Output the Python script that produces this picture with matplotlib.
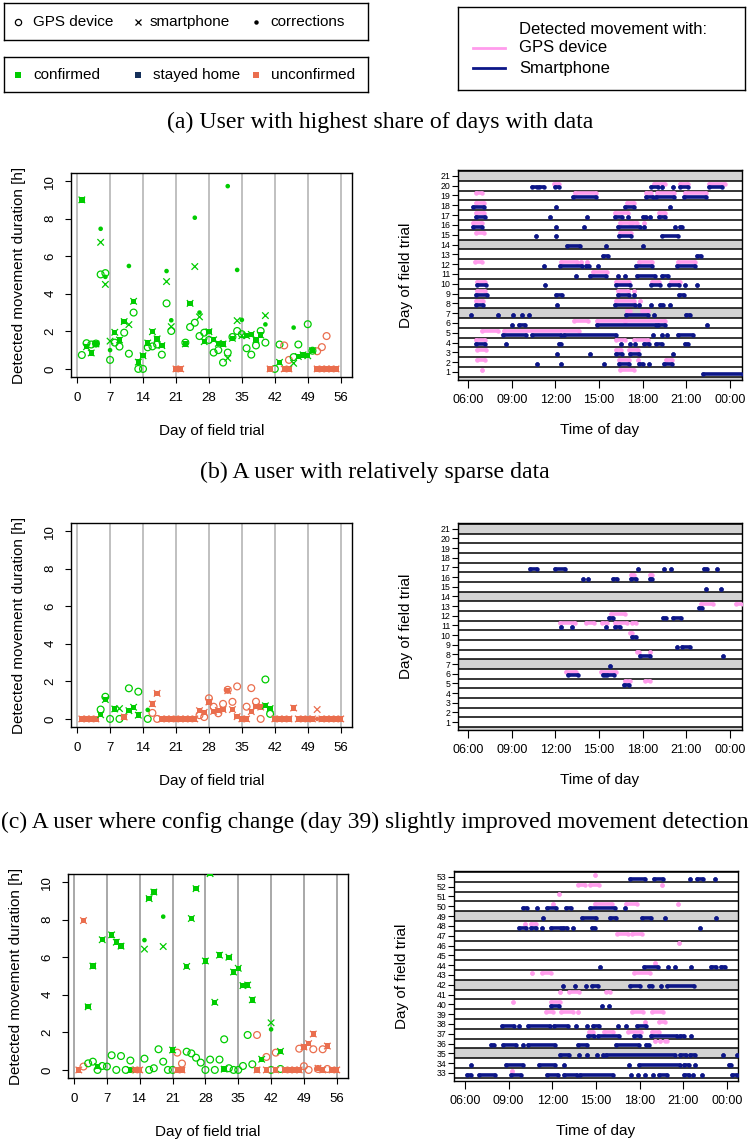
import numpy as np
import matplotlib
matplotlib.use("Agg")
import matplotlib.pyplot as plt

plt.rcParams['font.family'] = ['Liberation Sans', 'DejaVu Sans']

W, H = 750, 1141
nan = np.nan

GREEN = "#00cc00"
NAVY = "#15305a"
SALMON = "#ea6e4e"
PINK = "#ff9cec"
BLUE = "#0c1688"
STATUS_COL = {"C": GREEN, "S": NAVY, "U": SALMON}

day_ticks = [0, 7, 14, 21, 28, 35, 42, 49, 56]
dur_ticks = [0, 2, 4, 6, 8, 10]
hour_ticks = [6, 9, 12, 15, 18, 21, 24]
hour_labels = ["06:00", "09:00", "12:00", "15:00", "18:00", "21:00", "00:00"]

# ---------------- (a) scatter ----------------
days_a = list(range(1, 56))
gps_a = [0.74, 1.37, 1.3, 1.35, 5.03, 5.1, 0.48, 1.4, 1.19, 1.93,
         0.81, 3.0, 0.0, 0.0, 1.15, 1.2, 1.3, 0.76, 3.49, 2.02,
         nan, nan, 1.4, 2.23, 2.46, 1.75, 1.93, 1.54, 0.87, 1.0,
         0.34, 0.87, 1.7, 2.02, 1.85, 1.1, 0.76, 1.25, 2.02, 1.4,
         nan, 0.0, 1.3, 1.25, 0.48, 0.63, 1.3, nan, 2.38, 0.97,
         0.94, 1.16, 1.75, nan, nan]
phone_a = [9.0, 1.18, 0.85, 1.33, 6.74, 4.5, 1.48, 1.95, 1.54, 2.52,
           2.36, 3.6, 0.36, 0.7, 1.38, 1.98, 1.6, 1.24, 4.65, 2.25,
           0, 0, 1.33, 3.49, 5.45, 2.77, 1.45, 1.98, 1.55, 1.36,
           1.33, 0.57, 1.63, 2.57, 1.77, 1.77, 1.84, 1.54, 1.8, 2.84,
           0, nan, 0.35, 0, 0, 0.3, 0.66, 0.75, 0.7, 0.97,
           0, 0, 0, 0, 0]
corr_a = [9.0, 1.18, 0.85, 1.33, 7.46, 4.9, 1.0, 1.95, 1.54, 2.52,
          5.48, 3.6, 0.36, 0.7, 1.38, 1.98, 1.6, 1.24, 5.21, 2.59,
          0, 0, 1.33, 3.49, 8.05, 3.0, 1.45, 1.98, 1.55, 1.36,
          1.33, 9.73, 1.63, 5.27, 2.61, 1.77, 1.84, 1.54, 1.8, 2.37,
          0, nan, 0.35, 0, 0, 2.2, 0.66, 0.75, 0.7, 0.97,
          0, 0, 0, 0, 0]
status_a = "CCCCCCCCCCCCCCCCCCCCUUCCCCCCCCCCCCCCCCCCUCCUUCCCCCUUUUU"

# ---------------- (b) scatter ----------------
days_b = list(range(1, 57))
gps_b = [nan, nan, nan, nan, 0.5, 1.18, 0.0, nan, 0.0, nan,
         1.63, nan, 1.45, nan, 0.0, 0.32, 0.0, nan, nan, nan,
         nan, nan, nan, nan, nan, 0.2, 0.1, 1.1, 0.65, 0.3,
         0.8, 1.55, 0.91, 1.73, nan, 0.65, 1.64, 0.92, 0.0, 2.1,
         0.27, nan, nan, nan, nan, nan, nan, nan, nan, nan,
         nan, nan, nan, nan, nan, nan]
phone_b = [0, 0, 0, 0, 0.22, 1.03, nan, 0.53, 0.55, 0.1,
           0.44, 0.62, 0.2, nan, nan, 0.8, 1.36, 0, 0, 0,
           0, 0, 0, 0, 0, 0.44, 0.35, 0.9, 0.4, 0.45,
           0.5, 1.5, 0.5, 0.12, 0, 0, 0.39, 0.66, 0.63, 0.7,
           0.55, 0, 0, 0, 0, 0.58, 0, 0, 0, 0,
           0.5, 0, 0, 0, 0, 0]
corr_b = [0, 0, 0, 0, 0.22, 1.03, nan, 0.53, nan, 0.1,
          0.44, 0.62, 0.2, nan, 0.48, 0.8, 1.36, 0, 0, 0,
          0, 0, 0, 0, 0, 0.44, 0.35, 0.9, 0.4, 0.45,
          0.5, 1.5, 0.5, 0.12, 0, 0, 0.39, 0.66, 0.63, 0.7,
          0.55, 0, 0, 0, 0, 0.58, 0, 0, 0, 0,
          0, 0, 0, 0, 0, 0]
status_b = "UUUUCCCCCUCCCCCUUUUUUUUUUUUUUUUUUUUUUUUCCUUUUUUUUUUUUUUU"

# ---------------- (c) scatter ----------------
days_c = list(range(1, 57))
gps_c = [nan, 0.18, 0.35, 0.44, 0.0, 0.21, 0.18, 0.78, 0.0, 0.74,
         0.0, 0.5, nan, nan, 0.6, 0.0, 0.09, 1.1, 0.44, 0.0,
         0.0, 0.92, 0.34, 0.97, 0.88, 0.65, 0.39, 0.0, 0.55, 0.0,
         0.55, 1.63, 0.09, 0.0, 0.0, 0.21, 1.86, 0.3, 1.86, nan,
         0.69, 0.0, 0.92, 0.05, nan, nan, nan, 1.13, 0.2, 0.0,
         1.1, 0.05, 1.1, 0.05, nan, nan]
phone_c = [0, 7.95, 3.36, 5.53, 0.18, 6.93, nan, 7.19, 6.8, 6.59,
           nan, 0.0, 0, 0, 6.43, 9.12, 9.47, nan, 6.57, nan,
           1.06, 0, 0, 5.51, 8.06, 9.65, nan, 5.8, 10.45, 3.6,
           6.11, 0.04, 6.0, 5.21, 5.41, 4.49, 4.52, 3.73, 0, 0.57,
           0, 2.51, 0, 0.99, 0, 0, 0, 0, 1.22, 1.4,
           1.91, 0.09, 0, 1.27, 0, 0]
corr_c = [0, 7.95, 3.36, 5.53, 0.18, 6.93, nan, 7.19, 6.8, 6.59,
          nan, 0.0, 0, 0, 6.91, 9.12, 9.47, nan, 8.16, nan,
          1.06, 0, 0, 5.51, 8.06, 9.65, nan, 5.8, 10.45, 3.6,
          6.11, 0.04, 6.0, 5.21, 5.41, 4.49, 4.52, 3.73, 0, 0.57,
          0, 2.16, 0, 0.99, 0, 0, 0, 0, 1.22, 1.4,
          1.91, 0.09, 0, 1.27, 0, 0]
status_c = "UUCCCCCCCCCCUUCCCCCCCUUCCCCCCCCCCCCCCCUCUCUCUUUUUUUUUUUU"

# ---------------- (a) timeline ----------------
gps_tl_a = {
    20: [(11.91, 12.25), (18.78, 19.56), (20.59, 21.11), (22.56, 23.68)],
    19: [(6.53, 6.98), (13.33, 14.77), (18.23, 18.57), (18.98, 20.17), (20.88, 22.37)],
    18: [(6.57, 7.1), (16.95, 17.4)],
    17: [(6.57, 7.1), (16.12, 16.99), (19.12, 19.53)],
    16: [(6.34, 6.92), (16.42, 17.1), (17.29, 17.63), (18.09, 18.09)],
    15: [(6.57, 7.1), (16.42, 17.17)],
    12: [(6.46, 6.98), (12.41, 13.51), (13.79, 13.79), (14.2, 14.2), (17.72, 18.66), (20.43, 21.59)],
    11: [(14.59, 15.55)],
    10: [(6.62, 7.19), (16.19, 17.04), (18.66, 19.12), (19.92, 20.54)],
    9: [(6.62, 7.19), (16.28, 16.99), (17.4, 17.4)],
    8: [(6.53, 7.03), (16.19, 17.43), (17.79, 17.79)],
    7: [(16.92, 17.15), (17.95, 18.37)],
    6: [(13.28, 14.24), (14.86, 16.76), (16.81, 19.56)],
    5: [(6.98, 8.06), (8.47, 13.63)],
    4: [(6.57, 7.14), (16.14, 16.76), (17.38, 18.37)],
    3: [(6.62, 7.24), (16.14, 16.53), (17.06, 17.68)],
    2: [(6.62, 7.19), (16.4, 17.04), (17.68, 17.68), (19.63, 20.01)],
    1: [(6.98, 6.98), (16.42, 17.38)],
}
phone_tl_a = {
    20: [(10.42, 10.7), (10.88, 11.22), (11.98, 12.25), (18.55, 19.05), (19.35, 19.35),
         (20.08, 20.08), (20.59, 21.11), (22.56, 23.47)],
    19: [(13.21, 14.77), (18.23, 18.7), (18.94, 20.17), (20.82, 22.37)],
    18: [(6.34, 7.12), (12.07, 12.07), (16.79, 17.4), (19.85, 19.85)],
    17: [(6.53, 7.17), (11.61, 11.61), (14.17, 14.17), (16.12, 16.6), (16.99, 16.99),
         (18.02, 18.2), (18.52, 18.52), (19.1, 19.56)],
    16: [(6.34, 6.96), (12.07, 12.07), (13.95, 13.95), (16.33, 17.79), (18.07, 18.07),
         (20.2, 20.2), (20.54, 20.7)],
    15: [(10.65, 10.65), (12.07, 12.07), (16.35, 17.17), (19.35, 20.45)],
    14: [(12.82, 13.67), (15.5, 15.5), (18.02, 18.02)],
    13: [(15.27, 15.62), (21.75, 22.03)],
    12: [(11.22, 11.22), (12.3, 13.83), (14.13, 14.29), (14.95, 14.95), (17.56, 18.62), (20.38, 21.57)],
    11: [(13.4, 13.4), (14.4, 15.5), (16.3, 16.3), (16.81, 16.81), (17.63, 18.82), (19.35, 19.72)],
    10: [(6.62, 7.21), (11.29, 11.29), (16.19, 17.1), (18.59, 19.19), (19.79, 20.5),
         (20.93, 20.93), (21.73, 21.73)],
    9: [(6.57, 7.26), (12.07, 12.48), (16.33, 17.06), (17.4, 17.4), (20.5, 20.84)],
    8: [(6.53, 7.05), (12.11, 12.11), (16.08, 17.45), (17.75, 17.75), (18.59, 18.59),
        (19.17, 19.4), (19.85, 19.85)],
    7: [(6.18, 6.18), (8.06, 8.06), (9.09, 9.09), (9.73, 9.73), (10.17, 10.17),
        (16.88, 18.37), (18.78, 18.78), (21.0, 21.27)],
    6: [(9.02, 9.02), (9.5, 9.94), (14.86, 18.89), (19.07, 19.56), (22.44, 22.44)],
    5: [(8.4, 9.96), (10.42, 12.37), (12.6, 16.14), (18.7, 18.7), (19.33, 19.33),
        (19.7, 19.7), (20.43, 21.46)],
    4: [(6.53, 7.19), (8.63, 8.63), (12.25, 12.41), (16.49, 16.49), (17.1, 17.1),
        (17.45, 17.45), (18.09, 18.41), (18.94, 19.35), (20.88, 21.14)],
    3: [(12.11, 12.11), (14.36, 14.36), (16.19, 16.56), (17.1, 17.72), (20.08, 20.08)],
    2: [(10.76, 10.76), (12.41, 12.41), (15.34, 15.34), (16.37, 17.04), (17.75, 18.02),
        (18.43, 18.43), (19.44, 20.01)],
    1: [(22.14, 24.9)],
}

# ---------------- (b) timeline ----------------
gps_tl_b = {
    16: [(17.17, 17.4), (18.48, 18.66)],
    13: [(22.03, 22.83), (24.39, 24.9)],
    12: [(15.85, 16.76)],
    11: [(12.3, 13.33), (14.13, 14.66), (15.21, 15.57), (16.12, 16.95), (17.27, 17.56)],
    10: [(17.1, 17.29)],
    8: [(17.63, 17.75), (18.48, 18.48)],
    6: [(12.76, 13.4), (15.16, 16.14)],
    5: [(16.76, 17.1), (18.14, 18.48)],
}
phone_tl_b = {
    17: [(10.24, 10.74), (11.95, 12.66), (17.68, 17.68), (19.46, 19.46), (19.92, 19.92),
         (22.19, 22.44), (23.13, 23.13)],
    16: [(13.9, 13.9), (14.24, 14.24), (15.96, 16.26), (17.17, 17.56), (18.48, 18.66)],
    15: [(22.37, 22.37), (23.4, 23.4)],
    13: [(21.85, 22.1)],
    12: [(15.69, 15.96), (19.4, 19.62), (20.06, 20.66)],
    11: [(12.37, 12.37), (13.17, 13.17), (15.5, 15.5), (16.08, 16.42)],
    10: [(17.27, 17.56)],
    9: [(20.34, 20.34), (20.7, 21.23)],
    8: [(17.79, 18.53), (23.52, 23.52)],
    7: [(15.73, 15.73)],
    6: [(12.87, 13.56), (15.27, 15.43), (15.57, 16.03)],
    5: [(16.72, 17.06)],
}

# ---------------- (c) timeline ----------------
gps_tl_c = {
    53: [(14.9, 14.9)],
    52: [(13.75, 14.26), (14.56, 15.22), (19.53, 19.53)],
    51: [(12.47, 12.47)],
    50: [(12.08, 12.08), (14.94, 16.09), (17.06, 17.81), (20.61, 20.61)],
    48: [(10.15, 10.15), (10.54, 10.86)],
    47: [(16.44, 17.17), (17.47, 18.16)],
    46: [(20.68, 20.68)],
    44: [(19.03, 19.03)],
    43: [(10.59, 10.59), (11.28, 11.89), (17.58, 18.73)],
    41: [(12.54, 12.54), (13.18, 13.8), (15.66, 15.93)],
    40: [(9.28, 9.28), (11.92, 12.54)],
    39: [(11.57, 12.08), (12.58, 13.45), (13.73, 13.73), (17.47, 18.23), (18.87, 19.58)],
    38: [(18.39, 18.39), (19.3, 19.76)],
    37: [(14.49, 14.78), (15.52, 16.16), (17.19, 18.11), (18.87, 19.35)],
    36: [(19.07, 19.07), (19.37, 19.37), (19.76, 19.88)],
    33: [(9.21, 9.21)],
}
phone_tl_c = {
    53: [(17.35, 18.39), (18.96, 19.6), (21.44, 21.44), (21.94, 22.33), (23.16, 23.16)],
    50: [(9.97, 10.24), (10.93, 10.93), (11.62, 12.22), (12.93, 13.27), (14.6, 16.28), (17.0, 17.0)],
    49: [(11.39, 11.39), (14.07, 15.01), (15.98, 16.39), (18.16, 18.8), (19.72, 19.72), (23.27, 23.27)],
    48: [(9.72, 10.2), (10.54, 10.89), (11.32, 11.32), (11.89, 12.58), (12.72, 13.04),
         (13.39, 13.39), (14.72, 14.94), (22.17, 22.17)],
    44: [(15.29, 15.29), (18.27, 19.23), (19.94, 19.94), (20.4, 20.4), (21.53, 21.53),
         (22.93, 23.27), (23.55, 23.89)],
    42: [(12.7, 12.7), (13.59, 13.59), (14.3, 14.3), (14.72, 15.17), (17.35, 18.0),
         (18.61, 18.87), (19.49, 19.49), (19.88, 21.76)],
    40: [(11.92, 12.49), (15.4, 15.4), (15.91, 15.91)],
    38: [(8.52, 9.37), (9.74, 9.74), (10.31, 11.85), (12.12, 13.11), (13.64, 13.64),
         (14.39, 14.39), (14.76, 15.24), (16.5, 16.5), (17.03, 17.03), (17.81, 18.45)],
    37: [(14.42, 14.83), (15.13, 16.55), (17.58, 18.04), (18.78, 20.56), (20.75, 21.02), (21.53, 21.53)],
    36: [(7.79, 8.0), (8.64, 9.51), (9.97, 9.97), (10.31, 12.19), (13.75, 14.37),
         (16.39, 17.97), (18.45, 18.61)],
    35: [(12.54, 13.18), (13.8, 13.8), (14.37, 14.37), (15.1, 15.1), (15.45, 15.45),
         (15.68, 20.4), (20.75, 21.18), (21.48, 21.83), (23.73, 23.73), (24.65, 24.65)],
    34: [(6.39, 6.39), (8.8, 9.97), (11.11, 12.19), (12.83, 12.83), (17.26, 17.26),
         (17.93, 20.75), (21.02, 21.37), (21.83, 21.83), (24.12, 24.3)],
    33: [(6.11, 6.39), (7.0, 8.06), (9.14, 9.83), (11.62, 12.42), (12.81, 13.68),
         (13.91, 16.14), (17.4, 17.4), (17.86, 17.86), (18.39, 18.39), (18.89, 18.89),
         (19.33, 19.88), (21.02, 21.37), (21.64, 21.64), (22.28, 22.28), (24.35, 24.65)],
}


def px_rect(l, t, r, b):
    return [l / W, 1 - b / H, (r - l) / W, (b - t) / H]


def scatter_panel(ax, days, gps, phone, corr, status, gridcol):
    days = np.asarray(days, float)
    gps = np.asarray(gps, float)
    phone = np.asarray(phone, float)
    corr = np.asarray(corr, float)
    col = np.array([STATUS_COL[s] for s in status])
    for xv in day_ticks:
        ax.axvline(xv, color=gridcol, lw=1.4, zorder=0)
    same = np.isclose(phone, corr)
    ax.scatter(days, gps, s=24, facecolors="none", edgecolors=col, linewidths=0.9, zorder=2)
    ax.scatter(days[same], corr[same], marker="s", s=15, c=col[same], linewidths=0, zorder=3)
    ax.scatter(days[~same], corr[~same], marker="o", s=11, c=col[~same], linewidths=0, zorder=3)
    ax.scatter(days, phone, marker="x", s=22, c=col, linewidths=0.9, zorder=4)
    ax.set_xlim(-1.3, 58.4)
    ax.set_ylim(-0.43, 10.43)
    ax.set_xticks(day_ticks)
    ax.set_yticks(dur_ticks)
    ax.set_yticklabels([str(v) for v in dur_ticks], rotation=90, va="center")
    ax.tick_params(direction="out", length=4.5, width=0.8, labelsize=9.5, pad=6)
    ax.set_xlabel("Day of field trial", fontsize=11, labelpad=15)
    ax.set_ylabel("Detected movement duration [h]", fontsize=11, labelpad=13)
    for sp in ax.spines.values():
        sp.set_linewidth(1.0)


def timeline_panel(ax, lo, hi, gps_iv, phone_iv, xlim):
    for d in range(lo - 1, hi + 2):
        if d % 7 == 0:
            ax.axhspan(d - 0.5, d + 0.5, color="#d3d3d3", lw=0, zorder=0)
    for d in range(lo, hi + 1):
        ax.axhline(d - 0.5, color="black", lw=1.1, zorder=1)
    ax.axhline(hi + 0.5, color="black", lw=1.1, zorder=1)
    for ivs, off, c in ((gps_iv, 0.22, PINK), (phone_iv, -0.18, BLUE)):
        for day, spans in ivs.items():
            for s, e in spans:
                ax.plot([s, e], [day + off, day + off], color=c, lw=2.6, marker="o",
                        ms=3.2, mew=0, solid_capstyle="round", zorder=3)
    ax.set_xlim(*xlim)
    ax.set_ylim(lo - 0.82, hi + 0.6)
    ax.set_xticks(hour_ticks)
    ax.set_xticklabels(hour_labels)
    ax.set_yticks(range(lo, hi + 1))
    ax.tick_params(axis="x", direction="out", length=6, width=0.8, labelsize=9, pad=4)
    ax.tick_params(axis="y", direction="out", length=4, width=0.8, labelsize=6.3, pad=1.5)
    ax.set_xlabel("Time of day", fontsize=11, labelpad=12)
    ax.set_ylabel("Day of field trial", fontsize=11, labelpad=20)
    for sp in ax.spines.values():
        sp.set_linewidth(1.0)


fig = plt.figure(figsize=(W / 100, H / 100), dpi=100)

# legends
lg1 = fig.add_axes(px_rect(4, 3, 368, 40))
lg2 = fig.add_axes(px_rect(4, 57, 368, 92))
lg3 = fig.add_axes(px_rect(458, 7, 745, 90))
for lg, h in ((lg1, 37), (lg2, 35), (lg3, 83)):
    lg.set_xlim(0, lg.get_position().width * W)
    lg.set_ylim(h, 0)
    lg.set_xticks([])
    lg.set_yticks([])
    for sp in lg.spines.values():
        sp.set_linewidth(1.0)

lg1.plot(14, 19, "o", ms=4.5, mfc="none", mec="black", mew=0.9)
lg1.text(29, 19, "GPS device", fontsize=11, va="center")
lg1.plot(134, 19, "x", ms=4.5, color="black", mew=0.9)
lg1.text(146, 19, "smartphone", fontsize=11, va="center")
lg1.plot(252, 19, "o", ms=3.2, color="black", mew=0)
lg1.text(266, 19, "corrections", fontsize=11, va="center")

for x0, c, lab in ((14, GREEN, "confirmed"), (134, NAVY, "stayed home"), (252, SALMON, "unconfirmed")):
    lg2.plot(x0, 18, "s", ms=4.5, color=c, mew=0)
    lg2.text(x0 + 15, 18, lab, fontsize=11, va="center")

lg3.text(61, 22, "Detected movement with:", fontsize=12, va="center")
lg3.plot([15, 47], [41, 41], color=PINK, lw=2)
lg3.text(61, 41, "GPS device", fontsize=12, va="center")
lg3.plot([15, 47], [61, 61], color=BLUE, lw=2)
lg3.text(61, 61, "Smartphone", fontsize=12, va="center")

# captions
fig.text(380 / W, 1 - 122 / H, "(a) User with highest share of days with data",
         family="Liberation Serif", fontsize=17.2, ha="center", va="center")
fig.text(375 / W, 1 - 472 / H, "(b) A user with relatively sparse data",
         family="Liberation Serif", fontsize=17.2, ha="center", va="center")
fig.text(1 / W, 1 - 822 / H,
         "(c) A user where config change (day 39) slightly improved movement detection",
         family="Liberation Serif", fontsize=16.9, ha="left", va="center")

ax_a = fig.add_axes(px_rect(71, 173, 352, 377))
scatter_panel(ax_a, days_a, gps_a, phone_a, corr_a, status_a, "#c0c0c0")
ax_b = fig.add_axes(px_rect(71, 523, 352, 727))
scatter_panel(ax_b, days_b, gps_b, phone_b, corr_b, status_b, "#c0c0c0")
ax_c = fig.add_axes(px_rect(68, 874, 348, 1078))
scatter_panel(ax_c, days_c, gps_c, phone_c, corr_c, status_c, "#a8a8a8")

tl_a = fig.add_axes(px_rect(458, 170, 742, 380))
timeline_panel(tl_a, 1, 21, gps_tl_a, phone_tl_a, (5.3, 24.83))
tl_b = fig.add_axes(px_rect(458, 523, 742, 730))
timeline_panel(tl_b, 1, 21, gps_tl_b, phone_tl_b, (5.3, 24.83))
tl_c = fig.add_axes(px_rect(454, 871, 738, 1081))
timeline_panel(tl_c, 33, 53, gps_tl_c, phone_tl_c, (5.25, 24.75))

fig.savefig("out.png", dpi=100)
